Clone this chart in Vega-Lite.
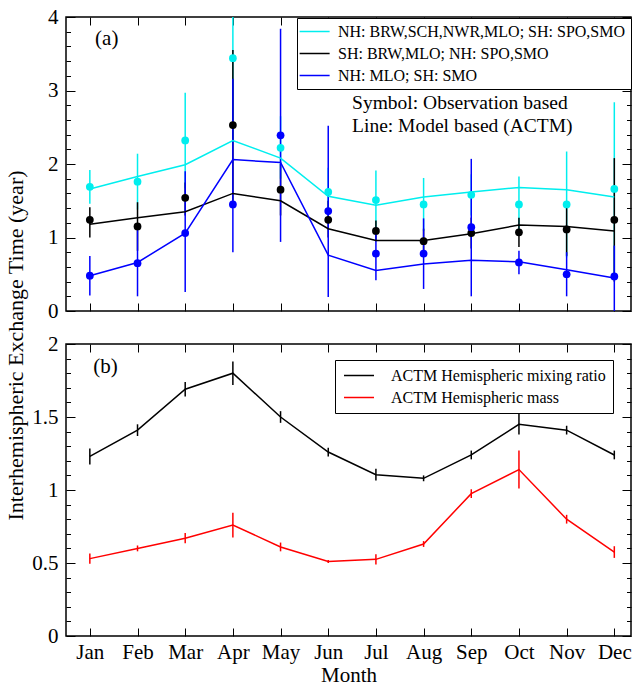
{
  "$schema": "https://vega.github.io/schema/vega-lite/v6.json",
  "padding": {"left": 4, "top": 5, "right": 0, "bottom": 0},
  "background": "white",
  "title": {"text": "Interhemispheric Exchange Time (year)", "orient": "left", "anchor": "middle", "font": "Liberation Serif", "fontSize": 22, "fontWeight": "normal", "color": "black", "offset": 3},
  "config": {
    "font": "Liberation Serif",
    "view": {"stroke": "black", "strokeWidth": 1.5},
    "axis": {"domain": false, "grid": false, "labelFont": "Liberation Serif", "labelColor": "black", "tickColor": "black", "titleFont": "Liberation Serif", "titleColor": "black", "titleFontWeight": "normal", "labelFlush": false, "labelOverlap": false},
    "legend": {"labelFont": "Liberation Serif", "labelFontSize": 16, "labelColor": "black", "labelLimit": 500}
  },
  "resolve": {"scale": {"color": "independent"}, "legend": {"color": "independent"}},
  "datasets": {
    "obs": [
      {"m": 1, "series": "NH: BRW,SCH,NWR,MLO; SH: SPO,SMO", "v": 1.69, "lo": 1.46, "hi": 1.92},
      {"m": 2, "series": "NH: BRW,SCH,NWR,MLO; SH: SPO,SMO", "v": 1.76, "lo": 1.38, "hi": 2.14},
      {"m": 3, "series": "NH: BRW,SCH,NWR,MLO; SH: SPO,SMO", "v": 2.32, "lo": 1.67, "hi": 2.97},
      {"m": 4, "series": "NH: BRW,SCH,NWR,MLO; SH: SPO,SMO", "v": 3.44, "lo": 2.3, "hi": 4.6},
      {"m": 5, "series": "NH: BRW,SCH,NWR,MLO; SH: SPO,SMO", "v": 2.22, "lo": 1.8, "hi": 2.65},
      {"m": 6, "series": "NH: BRW,SCH,NWR,MLO; SH: SPO,SMO", "v": 1.62, "lo": 1.3, "hi": 1.95},
      {"m": 7, "series": "NH: BRW,SCH,NWR,MLO; SH: SPO,SMO", "v": 1.51, "lo": 1.12, "hi": 1.91},
      {"m": 8, "series": "NH: BRW,SCH,NWR,MLO; SH: SPO,SMO", "v": 1.45, "lo": 1.09, "hi": 1.81},
      {"m": 9, "series": "NH: BRW,SCH,NWR,MLO; SH: SPO,SMO", "v": 1.58, "lo": 1.3, "hi": 1.86},
      {"m": 10, "series": "NH: BRW,SCH,NWR,MLO; SH: SPO,SMO", "v": 1.45, "lo": 1.07, "hi": 1.83},
      {"m": 11, "series": "NH: BRW,SCH,NWR,MLO; SH: SPO,SMO", "v": 1.45, "lo": 0.73, "hi": 2.17},
      {"m": 12, "series": "NH: BRW,SCH,NWR,MLO; SH: SPO,SMO", "v": 1.66, "lo": 0.48, "hi": 2.84},
      {"m": 1, "series": "SH: BRW,MLO; NH: SPO,SMO", "v": 1.24, "lo": 1.0, "hi": 1.41},
      {"m": 2, "series": "SH: BRW,MLO; NH: SPO,SMO", "v": 1.15, "lo": 0.82, "hi": 1.48},
      {"m": 3, "series": "SH: BRW,MLO; NH: SPO,SMO", "v": 1.54, "lo": 1.3, "hi": 1.75},
      {"m": 4, "series": "SH: BRW,MLO; NH: SPO,SMO", "v": 2.53, "lo": 1.5, "hi": 3.55},
      {"m": 5, "series": "SH: BRW,MLO; NH: SPO,SMO", "v": 1.65, "lo": 1.3, "hi": 2.0},
      {"m": 6, "series": "SH: BRW,MLO; NH: SPO,SMO", "v": 1.24, "lo": 1.0, "hi": 1.5},
      {"m": 7, "series": "SH: BRW,MLO; NH: SPO,SMO", "v": 1.09, "lo": 0.95, "hi": 1.23},
      {"m": 8, "series": "SH: BRW,MLO; NH: SPO,SMO", "v": 0.95, "lo": 0.78, "hi": 1.12},
      {"m": 9, "series": "SH: BRW,MLO; NH: SPO,SMO", "v": 1.06, "lo": 0.85, "hi": 1.27},
      {"m": 10, "series": "SH: BRW,MLO; NH: SPO,SMO", "v": 1.07, "lo": 0.87, "hi": 1.27},
      {"m": 11, "series": "SH: BRW,MLO; NH: SPO,SMO", "v": 1.11, "lo": 0.75, "hi": 1.47},
      {"m": 12, "series": "SH: BRW,MLO; NH: SPO,SMO", "v": 1.24, "lo": 0.4, "hi": 2.08},
      {"m": 1, "series": "NH: MLO; SH: SMO", "v": 0.48, "lo": 0.21, "hi": 0.75},
      {"m": 2, "series": "NH: MLO; SH: SMO", "v": 0.65, "lo": 0.2, "hi": 1.1},
      {"m": 3, "series": "NH: MLO; SH: SMO", "v": 1.06, "lo": 0.26, "hi": 1.9},
      {"m": 4, "series": "NH: MLO; SH: SMO", "v": 1.45, "lo": 0.8, "hi": 3.16},
      {"m": 5, "series": "NH: MLO; SH: SMO", "v": 2.39, "lo": 0.94, "hi": 3.84},
      {"m": 6, "series": "NH: MLO; SH: SMO", "v": 1.36, "lo": 0.19, "hi": 2.52},
      {"m": 7, "series": "NH: MLO; SH: SMO", "v": 0.78, "lo": 0.42, "hi": 1.14},
      {"m": 8, "series": "NH: MLO; SH: SMO", "v": 0.78, "lo": 0.3, "hi": 1.26},
      {"m": 9, "series": "NH: MLO; SH: SMO", "v": 1.14, "lo": 0.2, "hi": 2.07},
      {"m": 10, "series": "NH: MLO; SH: SMO", "v": 0.66, "lo": 0.5, "hi": 0.82},
      {"m": 11, "series": "NH: MLO; SH: SMO", "v": 0.5, "lo": 0.2, "hi": 0.8},
      {"m": 12, "series": "NH: MLO; SH: SMO", "v": 0.47, "lo": 0.0, "hi": 0.89}
    ],
    "model": [
      {"m": 1, "series": "NH: BRW,SCH,NWR,MLO; SH: SPO,SMO", "v": 1.66},
      {"m": 2, "series": "NH: BRW,SCH,NWR,MLO; SH: SPO,SMO", "v": 1.83},
      {"m": 3, "series": "NH: BRW,SCH,NWR,MLO; SH: SPO,SMO", "v": 1.99},
      {"m": 4, "series": "NH: BRW,SCH,NWR,MLO; SH: SPO,SMO", "v": 2.32},
      {"m": 5, "series": "NH: BRW,SCH,NWR,MLO; SH: SPO,SMO", "v": 2.08},
      {"m": 6, "series": "NH: BRW,SCH,NWR,MLO; SH: SPO,SMO", "v": 1.56},
      {"m": 7, "series": "NH: BRW,SCH,NWR,MLO; SH: SPO,SMO", "v": 1.44},
      {"m": 8, "series": "NH: BRW,SCH,NWR,MLO; SH: SPO,SMO", "v": 1.55},
      {"m": 9, "series": "NH: BRW,SCH,NWR,MLO; SH: SPO,SMO", "v": 1.62},
      {"m": 10, "series": "NH: BRW,SCH,NWR,MLO; SH: SPO,SMO", "v": 1.68},
      {"m": 11, "series": "NH: BRW,SCH,NWR,MLO; SH: SPO,SMO", "v": 1.65},
      {"m": 12, "series": "NH: BRW,SCH,NWR,MLO; SH: SPO,SMO", "v": 1.55},
      {"m": 1, "series": "SH: BRW,MLO; NH: SPO,SMO", "v": 1.18},
      {"m": 2, "series": "SH: BRW,MLO; NH: SPO,SMO", "v": 1.27},
      {"m": 3, "series": "SH: BRW,MLO; NH: SPO,SMO", "v": 1.35},
      {"m": 4, "series": "SH: BRW,MLO; NH: SPO,SMO", "v": 1.6},
      {"m": 5, "series": "SH: BRW,MLO; NH: SPO,SMO", "v": 1.5},
      {"m": 6, "series": "SH: BRW,MLO; NH: SPO,SMO", "v": 1.12},
      {"m": 7, "series": "SH: BRW,MLO; NH: SPO,SMO", "v": 0.96},
      {"m": 8, "series": "SH: BRW,MLO; NH: SPO,SMO", "v": 0.96},
      {"m": 9, "series": "SH: BRW,MLO; NH: SPO,SMO", "v": 1.05},
      {"m": 10, "series": "SH: BRW,MLO; NH: SPO,SMO", "v": 1.17},
      {"m": 11, "series": "SH: BRW,MLO; NH: SPO,SMO", "v": 1.15},
      {"m": 12, "series": "SH: BRW,MLO; NH: SPO,SMO", "v": 1.09},
      {"m": 1, "series": "NH: MLO; SH: SMO", "v": 0.48},
      {"m": 2, "series": "NH: MLO; SH: SMO", "v": 0.66},
      {"m": 3, "series": "NH: MLO; SH: SMO", "v": 1.06},
      {"m": 4, "series": "NH: MLO; SH: SMO", "v": 2.06},
      {"m": 5, "series": "NH: MLO; SH: SMO", "v": 2.02},
      {"m": 6, "series": "NH: MLO; SH: SMO", "v": 0.76},
      {"m": 7, "series": "NH: MLO; SH: SMO", "v": 0.55},
      {"m": 8, "series": "NH: MLO; SH: SMO", "v": 0.64},
      {"m": 9, "series": "NH: MLO; SH: SMO", "v": 0.69},
      {"m": 10, "series": "NH: MLO; SH: SMO", "v": 0.67},
      {"m": 11, "series": "NH: MLO; SH: SMO", "v": 0.56},
      {"m": 12, "series": "NH: MLO; SH: SMO", "v": 0.45}
    ],
    "actm": [
      {"m": 1, "series": "ACTM Hemispheric mixing ratio", "v": 1.23, "lo": 1.175, "hi": 1.285},
      {"m": 2, "series": "ACTM Hemispheric mixing ratio", "v": 1.41, "lo": 1.37, "hi": 1.45},
      {"m": 3, "series": "ACTM Hemispheric mixing ratio", "v": 1.69, "lo": 1.64, "hi": 1.74},
      {"m": 4, "series": "ACTM Hemispheric mixing ratio", "v": 1.8, "lo": 1.72, "hi": 1.88},
      {"m": 5, "series": "ACTM Hemispheric mixing ratio", "v": 1.5, "lo": 1.46, "hi": 1.54},
      {"m": 6, "series": "ACTM Hemispheric mixing ratio", "v": 1.26, "lo": 1.23, "hi": 1.29},
      {"m": 7, "series": "ACTM Hemispheric mixing ratio", "v": 1.105, "lo": 1.065, "hi": 1.145},
      {"m": 8, "series": "ACTM Hemispheric mixing ratio", "v": 1.08, "lo": 1.06, "hi": 1.1},
      {"m": 9, "series": "ACTM Hemispheric mixing ratio", "v": 1.24, "lo": 1.21, "hi": 1.27},
      {"m": 10, "series": "ACTM Hemispheric mixing ratio", "v": 1.45, "lo": 1.38, "hi": 1.52},
      {"m": 11, "series": "ACTM Hemispheric mixing ratio", "v": 1.41, "lo": 1.38, "hi": 1.44},
      {"m": 12, "series": "ACTM Hemispheric mixing ratio", "v": 1.24, "lo": 1.21, "hi": 1.27},
      {"m": 1, "series": "ACTM Hemispheric mass", "v": 0.53, "lo": 0.495, "hi": 0.565},
      {"m": 2, "series": "ACTM Hemispheric mass", "v": 0.6, "lo": 0.58, "hi": 0.62},
      {"m": 3, "series": "ACTM Hemispheric mass", "v": 0.67, "lo": 0.635, "hi": 0.705},
      {"m": 4, "series": "ACTM Hemispheric mass", "v": 0.76, "lo": 0.675, "hi": 0.845},
      {"m": 5, "series": "ACTM Hemispheric mass", "v": 0.61, "lo": 0.58, "hi": 0.64},
      {"m": 6, "series": "ACTM Hemispheric mass", "v": 0.51, "lo": 0.5, "hi": 0.52},
      {"m": 7, "series": "ACTM Hemispheric mass", "v": 0.525, "lo": 0.49, "hi": 0.56},
      {"m": 8, "series": "ACTM Hemispheric mass", "v": 0.63, "lo": 0.61, "hi": 0.65},
      {"m": 9, "series": "ACTM Hemispheric mass", "v": 0.975, "lo": 0.945, "hi": 1.005},
      {"m": 10, "series": "ACTM Hemispheric mass", "v": 1.14, "lo": 1.01, "hi": 1.27},
      {"m": 11, "series": "ACTM Hemispheric mass", "v": 0.8, "lo": 0.77, "hi": 0.83},
      {"m": 12, "series": "ACTM Hemispheric mass", "v": 0.575, "lo": 0.535, "hi": 0.615}
    ],
    "notesA": [
      {"m": 1.11, "v": 3.7, "label": "(a)", "size": "big"},
      {"m": 6.5, "v": 2.83, "label": "Symbol: Observation based", "size": "mid"},
      {"m": 6.5, "v": 2.52, "label": "Line: Model based (ACTM)", "size": "mid"}
    ],
    "notesB": [
      {"m": 1.07, "v": 1.84, "label": "(b)"}
    ]
  },
  "spacing": 10,
  "vconcat": [
    {
      "width": 565,
      "height": 294,
      "layer": [
        {
          "data": {"name": "obs"},
          "mark": {"type": "rule", "strokeWidth": 1.5, "clip": true},
          "encoding": {
            "x": {"field": "m", "type": "quantitative", "scale": {"domain": [0.5, 12.35], "nice": false, "zero": false},
              "axis": {"orient": "bottom", "values": [1,2,3,4,5,6,7,8,9,10,11,12], "labels": false, "tickSize": -8, "title": null}},
            "y": {"field": "lo", "type": "quantitative", "scale": {"domain": [0, 4], "nice": false, "zero": false},
              "axis": {"orient": "left", "title": null, "values": [0,0.2,0.4,0.6,0.8,1,1.2,1.4,1.6,1.8,2,2.2,2.4,2.6,2.8,3,3.2,3.4,3.6,3.8,4],
                "labelExpr": "datum.value % 1 === 0 ? '' + datum.value : ''", "labelFontSize": 21, "labelPadding": 17,
                "tickSize": {"condition": {"test": "datum.value % 1 === 0", "value": -9}, "value": -4.5}}},
            "y2": {"field": "hi"},
            "color": {"field": "series", "type": "nominal", "scale": {"domain": ["NH: BRW,SCH,NWR,MLO; SH: SPO,SMO", "SH: BRW,MLO; NH: SPO,SMO", "NH: MLO; SH: SMO"], "range": ["#00eeee", "#000000", "#0000ff"]},
              "legend": {"orient": "none", "legendX": 231, "legendY": 1, "title": null, "symbolType": "M-1.45,0H2.55", "symbolSize": 225, "symbolStrokeWidth": 1.5, "labelOffset": 19, "rowPadding": 5, "padding": 5, "strokeColor": "black", "fillColor": "white"}}
          }
        },
        {
          "data": {"name": "model"},
          "mark": {"type": "line", "strokeWidth": 1.5},
          "encoding": {
            "x": {"field": "m", "type": "quantitative",
              "axis": {"orient": "top", "values": [1,2,3,4,5,6,7,8,9,10,11,12], "labels": false, "tickSize": -8, "title": null}},
            "y": {"field": "v", "type": "quantitative",
              "axis": {"orient": "right", "title": null, "labels": false, "values": [0,0.2,0.4,0.6,0.8,1,1.2,1.4,1.6,1.8,2,2.2,2.4,2.6,2.8,3,3.2,3.4,3.6,3.8,4],
                "tickSize": {"condition": {"test": "datum.value % 1 === 0", "value": -9}, "value": -4.5}}},
            "color": {"field": "series", "type": "nominal"}
          }
        },
        {
          "data": {"name": "obs"},
          "mark": {"type": "point", "filled": true, "size": 60, "opacity": 1},
          "encoding": {
            "x": {"field": "m", "type": "quantitative", "axis": null},
            "y": {"field": "v", "type": "quantitative", "axis": null},
            "color": {"field": "series", "type": "nominal"}
          }
        },
        {
          "data": {"name": "notesA"},
          "mark": {"type": "text", "align": "left", "baseline": "middle", "font": "Liberation Serif", "color": "black"},
          "encoding": {
            "x": {"field": "m", "type": "quantitative", "axis": null},
            "y": {"field": "v", "type": "quantitative", "axis": null},
            "text": {"field": "label"},
            "size": {"field": "size", "type": "nominal", "scale": {"domain": ["big", "mid"], "range": [21, 19.5]}, "legend": null}
          }
        }
      ],
      "resolve": {"axis": {"x": "independent", "y": "independent"}}
    },
    {
      "width": 565,
      "height": 292,
      "layer": [
        {
          "data": {"name": "actm"},
          "mark": {"type": "rule", "strokeWidth": 1.5},
          "encoding": {
            "x": {"field": "m", "type": "quantitative", "scale": {"domain": [0.5, 12.35], "nice": false, "zero": false},
              "axis": {"orient": "bottom", "values": [1,2,3,4,5,6,7,8,9,10,11,12], "labelExpr": "['Jan','Feb','Mar','Apr','May','Jun','Jul','Aug','Sep','Oct','Nov','Dec'][datum.value - 1]", "labelFontSize": 21, "labelPadding": 13, "tickSize": -8, "title": "Month", "titleFontSize": 21, "titlePadding": 2}},
            "y": {"field": "lo", "type": "quantitative", "scale": {"domain": [0, 2], "nice": false, "zero": false},
              "axis": {"orient": "left", "title": null, "values": [0,0.1,0.2,0.3,0.4,0.5,0.6,0.7,0.8,0.9,1,1.1,1.2,1.3,1.4,1.5,1.6,1.7,1.8,1.9,2],
                "labelExpr": "(datum.value * 2) % 1 === 0 ? '' + datum.value : ''", "labelFontSize": 21, "labelPadding": 17,
                "tickSize": {"condition": {"test": "(datum.value * 2) % 1 === 0", "value": -9}, "value": -4.5}}},
            "y2": {"field": "hi"},
            "color": {"field": "series", "type": "nominal", "scale": {"domain": ["ACTM Hemispheric mixing ratio", "ACTM Hemispheric mass"], "range": ["#000000", "#ff0000"]},
              "legend": {"orient": "none", "legendX": 269, "legendY": 16, "title": null, "symbolType": "M-0.87,0H3.13", "symbolSize": 225, "symbolStrokeWidth": 1.5, "labelOffset": 32, "rowPadding": 5, "padding": 7, "strokeColor": "black", "fillColor": "white"}}
          }
        },
        {
          "data": {"name": "actm"},
          "mark": {"type": "line", "strokeWidth": 1.5},
          "encoding": {
            "x": {"field": "m", "type": "quantitative",
              "axis": {"orient": "top", "values": [1,2,3,4,5,6,7,8,9,10,11,12], "labels": false, "tickSize": -8, "title": null}},
            "y": {"field": "v", "type": "quantitative",
              "axis": {"orient": "right", "title": null, "labels": false, "values": [0,0.1,0.2,0.3,0.4,0.5,0.6,0.7,0.8,0.9,1,1.1,1.2,1.3,1.4,1.5,1.6,1.7,1.8,1.9,2],
                "tickSize": {"condition": {"test": "(datum.value * 2) % 1 === 0", "value": -9}, "value": -4.5}}},
            "color": {"field": "series", "type": "nominal"}
          }
        },
        {
          "data": {"name": "notesB"},
          "mark": {"type": "text", "align": "left", "baseline": "middle", "font": "Liberation Serif", "fontSize": 21, "color": "black"},
          "encoding": {
            "x": {"field": "m", "type": "quantitative", "axis": null},
            "y": {"field": "v", "type": "quantitative", "axis": null},
            "text": {"field": "label"}
          }
        }
      ],
      "resolve": {"axis": {"x": "independent", "y": "independent"}}
    }
  ]
}
